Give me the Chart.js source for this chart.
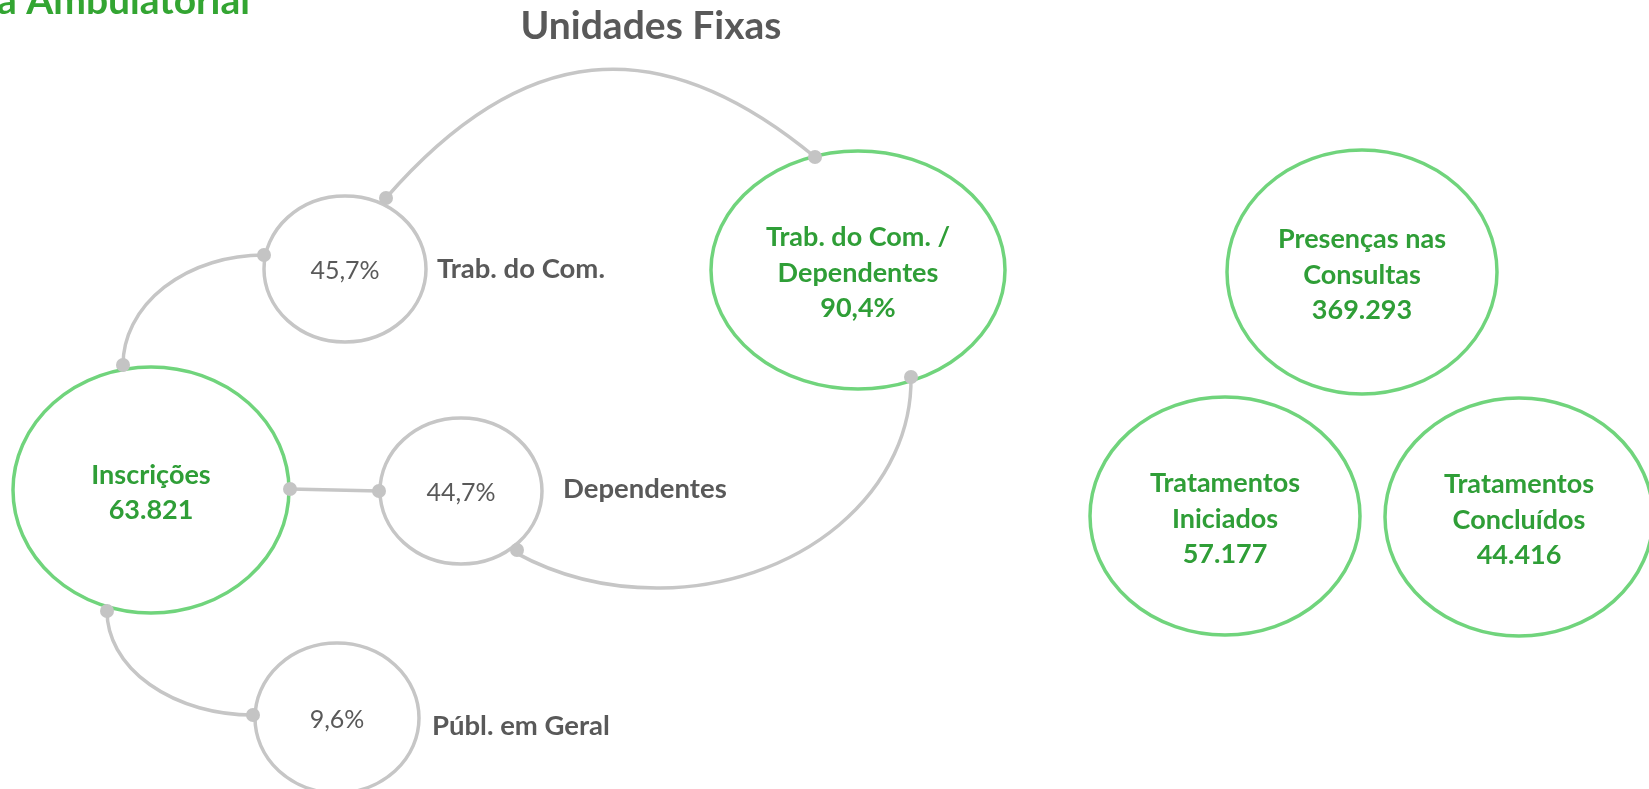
<!DOCTYPE html>
<html><head><meta charset="utf-8">
<script src="https://cdn.jsdelivr.net/npm/chart.js@4.4.1/dist/chart.umd.min.js"></script>
<style>html,body{margin:0;padding:0;background:#fff;overflow:hidden}#wrap{position:relative;width:1649px;height:789px}</style>
</head><body><div id="wrap"><canvas id="c" width="1649" height="789"></canvas></div>
<script>
// ---------------- data ----------------
const titleText = 'Unidades Fixas';
const sectionText = 'a Ambulatorial';
const inscricoesLabel = 'Inscrições';
const inscricoesTotal = 63821;
const segmentLabels = ['Trab. do Com.', 'Dependentes', 'Públ. em Geral'];
const segmentShares = [45.7, 44.7, 9.6];
const combinedLabel = ['Trab. do Com. /', 'Dependentes'];
const combinedShare = 90.4;
const outcomeLabels = [['Presenças nas', 'Consultas'], ['Tratamentos', 'Iniciados'], ['Tratamentos', 'Concluídos']];
const outcomeValues = [369293, 57177, 44416];

// ---------------- layout (in scale units of a 1649 x 789 space) ----------------
const nodeInsc = {cx: 151, cy: 490, rx: 138, ry: 123};
const nodeSeg = [
  {cx: 345, cy: 269, rx: 81, ry: 73, lx: 437, ly: 268},
  {cx: 461, cy: 491, rx: 81, ry: 73, lx: 563, ly: 488},
  {cx: 337, cy: 718, rx: 82, ry: 75, lx: 432, ly: 725}
];
const nodeComb = {cx: 858, cy: 270, rx: 147, ry: 119};
const nodeOut = [
  {cx: 1362, cy: 272, rx: 135, ry: 122},
  {cx: 1225, cy: 516, rx: 135, ry: 119},
  {cx: 1519, cy: 517, rx: 134, ry: 119}
];
const dots = [[386, 198], [264, 255], [123, 365], [290, 489], [107, 611], [379, 491], [517, 550], [253, 715], [815, 157], [911, 377]];
const arcEllipses = [
  {cx: 264, cy: 365, rx: 141, ry: 110, a0: -90, a1: -180, ccw: true},
  {cx: 253, cy: 611, rx: 146, ry: 104, a0: 90, a1: 180, ccw: false},
  {cx: 657, cy: 380, rx: 254, ry: 208, a0: -0.8, a1: 123.9, ccw: false}
];
const arcBezier = [[386, 198], [521, 43], [657, 26], [815, 157]];
const straightLink = [[290, 489], [379, 491]];

const GREEN_LINE = '#70d47c', GREEN_TEXT = '#2f9e37', GRAY_LINE = '#c6c6c6', GRAY_TEXT = '#595959';
const FONT = 'Lato, "Open Sans", sans-serif';

function fmtInt(n) { return String(n).replace(/\B(?=(\d{3})+(?!\d))/g, '.'); }
function fmtPct(v) { return v.toFixed(1).replace('.', ',') + '%'; }

const allNodes = [nodeInsc, ...nodeSeg, nodeComb, ...nodeOut];

const diagram = {
  id: 'diagram',
  afterDatasetsDraw(chart) {
    const ctx = chart.ctx, xs = chart.scales.x, ys = chart.scales.y;
    const X = v => xs.getPixelForValue(v), Y = v => ys.getPixelForValue(v);
    const W = d => X(d) - X(0), H = d => Y(d) - Y(0);
    const rad = a => a * Math.PI / 180;
    ctx.save();
    // connectors
    ctx.strokeStyle = GRAY_LINE; ctx.lineWidth = 3.5; ctx.lineCap = 'round';
    arcEllipses.forEach(a => {
      ctx.beginPath();
      ctx.ellipse(X(a.cx), Y(a.cy), W(a.rx), H(a.ry), 0, rad(a.a0), rad(a.a1), a.ccw);
      ctx.stroke();
    });
    ctx.beginPath();
    ctx.moveTo(X(arcBezier[0][0]), Y(arcBezier[0][1]));
    ctx.bezierCurveTo(X(arcBezier[1][0]), Y(arcBezier[1][1]), X(arcBezier[2][0]), Y(arcBezier[2][1]), X(arcBezier[3][0]), Y(arcBezier[3][1]));
    ctx.stroke();
    ctx.beginPath();
    ctx.moveTo(X(straightLink[0][0]), Y(straightLink[0][1]));
    ctx.lineTo(X(straightLink[1][0]), Y(straightLink[1][1]));
    ctx.stroke();

    // nodes
    const ell = (n, color, lw) => {
      ctx.beginPath();
      ctx.ellipse(X(n.cx), Y(n.cy), W(n.rx), H(n.ry), 0, 0, Math.PI * 2);
      ctx.strokeStyle = color; ctx.lineWidth = lw; ctx.stroke();
    };
    ell(nodeInsc, GREEN_LINE, 3.5);
    nodeSeg.forEach(n => ell(n, GRAY_LINE, 3.5));
    ell(nodeComb, GREEN_LINE, 3.5);
    nodeOut.forEach(n => ell(n, GREEN_LINE, 3.5));

    // dots
    ctx.fillStyle = '#c4c4c4';
    dots.forEach(d => { ctx.beginPath(); ctx.arc(X(d[0]), Y(d[1]), 7, 0, Math.PI * 2); ctx.fill(); });

    // text helper: y is the cap-centre
    const txt = (s, x, y, size, weight, color, align) => {
      ctx.font = weight + ' ' + size + 'px ' + FONT;
      ctx.fillStyle = color; ctx.textAlign = align || 'center'; ctx.textBaseline = 'alphabetic';
      ctx.fillText(s, x, y + 0.358 * size);
    };
    const block = (lines, n, size) => {
      const lh = 35.5, c = Y(n.cy) + 2;
      lines.forEach((s, i) => txt(s, X(n.cx), c + (i - (lines.length - 1) / 2) * lh, size, 'bold', GREEN_TEXT));
    };
    block([inscricoesLabel, fmtInt(inscricoesTotal)], nodeInsc, 27);
    segmentShares.forEach((v, i) => {
      const n = nodeSeg[i];
      txt(fmtPct(v), X(n.cx), Y(n.cy) + 1, 25, 'normal', GRAY_TEXT);
      txt(segmentLabels[i], X(n.lx), Y(n.ly), 27.5, 'bold', GRAY_TEXT, 'left');
    });
    block([...combinedLabel, fmtPct(combinedShare)], nodeComb, 27);
    outcomeValues.forEach((v, i) => block([...outcomeLabels[i], fmtInt(v)], nodeOut[i], 27));

    // titles
    txt(titleText, X(651), Y(25.5), 39, 'bold', GRAY_TEXT);
    txt(sectionText, X(250), Y(0), 39, 'bold', '#33a532', 'right');
    ctx.restore();
  }
};

new Chart(document.getElementById('c').getContext('2d'), {
  type: 'scatter',
  data: { datasets: [{ data: allNodes.map(n => ({x: n.cx, y: n.cy})), pointRadius: 0, pointHoverRadius: 0 }] },
  options: {
    responsive: false, animation: false, events: [],
    layout: { padding: 0 },
    plugins: { legend: { display: false }, tooltip: { enabled: false } },
    scales: {
      x: { type: 'linear', min: 0, max: 1649, display: false },
      y: { type: 'linear', min: 0, max: 789, reverse: true, display: false }
    }
  },
  plugins: [diagram]
});
</script></body></html>
